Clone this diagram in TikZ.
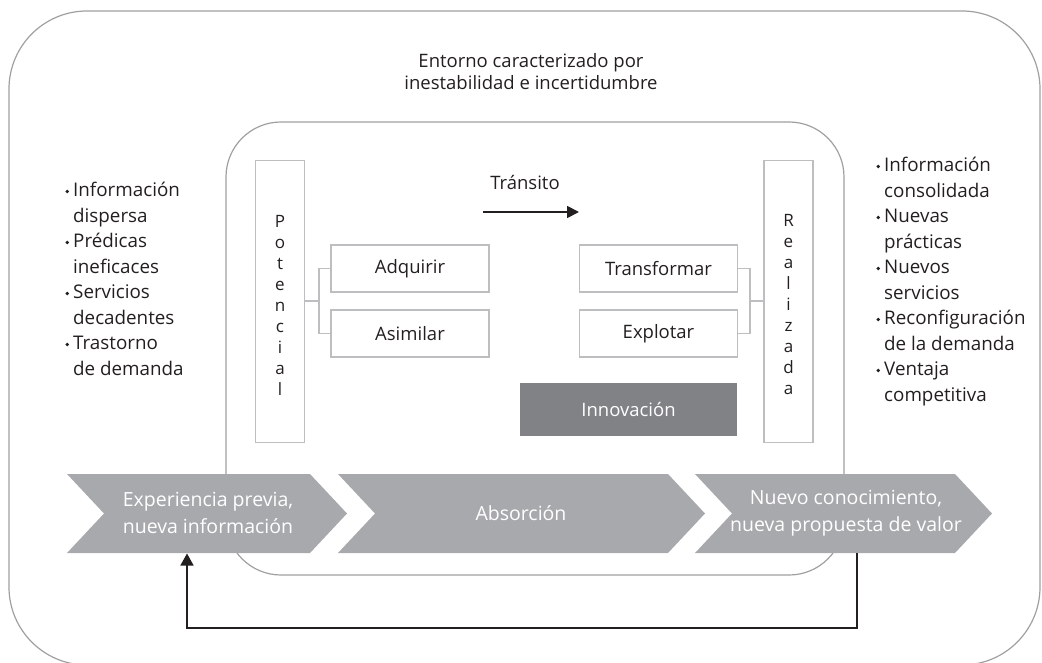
\documentclass[tikz,border=0pt]{standalone}
\usepackage{fontspec}
\setmainfont{Open Sans}
\usetikzlibrary{arrows.meta}
\definecolor{ink}{HTML}{231F20}
\definecolor{frame}{HTML}{A0A0A0}
\definecolor{boxline}{HTML}{BCBEC0}
\definecolor{chev}{HTML}{A7A9AC}
\definecolor{innov}{HTML}{808285}
\tikzset{
  frameline/.style={draw=frame, line width=1.2pt},
  stagebox/.style={draw=boxline, line width=1.3pt, minimum width=158pt, minimum height=47pt, inner sep=0pt,
    font=\fontsize{18.5}{20}\selectfont, text=ink},
  vertbox/.style={draw=boxline, line width=1.3pt, minimum width=49pt, minimum height=282pt, inner sep=0pt},
  vertlabel/.style={align=center, inner sep=0pt, font=\fontsize{17}{21}\selectfont, text=ink},
  bracket/.style={draw=boxline, line width=1.3pt},
  chevron/.style={fill=chev, draw=none},
  chevtext/.style={align=center, text=white, inner sep=0pt, font=\fontsize{19.5}{27}\selectfont},
  listtext/.style={align=left, inner sep=0pt, anchor=north west, text=ink, font=\fontsize{18.8}{25.5}\selectfont},
  feedback/.style={draw=ink, line width=1.6pt},
}
% small round bullet hanging left of each list item, centred on the x-height
\newcommand{\itm}{\llap{\raisebox{3.2pt}{\tikz\fill[ink] (0,0) circle (1.9pt);}\hspace{4pt}}}
\begin{document}
\begin{tikzpicture}[x=1pt,y=-1pt]
\useasboundingbox (0,0) rectangle (1042,663);

% outer environment frame (its bottom edge lies on the lower border)
\draw[frameline, rounded corners=78pt] (9,11) rectangle (1040,665);

\node[text=ink, align=center, inner sep=0pt, font=\fontsize{18.5}{22}\selectfont] (entorno) at (531,72)
  {Entorno caracterizado por\\inestabilidad e incertidumbre};

% inner absorption frame
\draw[frameline, rounded corners=55pt] (226,122) rectangle (844,575);

% potential / realised capacity bars
\node[vertbox] (potbox) at (280,301.5) {};
\node[vertlabel] (pot) at (280,305) {P\\o\\t\\e\\n\\c\\i\\a\\l};
\node[vertbox] (realbox) at (788.5,301.5) {};
\node[vertlabel] (real) at (788.5,305) {R\\e\\a\\l\\i\\z\\a\\d\\a};

% four capabilities
\node[stagebox] (adq) at (410,268.5) {Adquirir};
\node[stagebox] (asi) at (410,333.5) {Asimilar};
\node[stagebox] (tra) at (658.5,268.5) {Transformar};
\node[stagebox] (exp) at (658.5,333.5) {Explotar};
\node[fill=innov, minimum width=217pt, minimum height=53pt, inner sep=0pt,
  text=white, font=\fontsize{18.5}{20}\selectfont] (innov) at (628.5,409.5) {Innovación};

% brackets joining bars and capabilities
\coordinate (bl) at (319,301);
\draw[bracket] (potbox.east |- bl) -- (bl);
\draw[bracket] (adq.west) -| (bl) |- (asi.west);
\coordinate (br) at (750,301);
\draw[bracket] (tra.east) -| (br) |- (exp.east);
\draw[bracket] (br) -- (realbox.west |- br);

% transit arrow
\node[text=ink, inner sep=0pt, font=\fontsize{18.5}{20}\selectfont] (transito) at (525,183) {Tránsito};
\coordinate (ta) at (483,212);
\coordinate (tb) at (579,212);
\draw[draw=ink, line width=1.8pt, -{Triangle[length=12pt,width=12pt]}] (ta) -- (tb);

% process chevrons
\fill[chevron] (67,474) -- (310,474) -- (347,513.5) -- (310,553) -- (67,553) -- (104,513.5) -- cycle;
\fill[chevron] (338,474) -- (668,474) -- (705,513.5) -- (668,553) -- (338,553) -- (375,513.5) -- cycle;
\fill[chevron] (695,474) -- (955,474) -- (992,513.5) -- (955,553) -- (695,553) -- (732,513.5) -- cycle;
\node[chevtext] (prev) at (208,513) {Experiencia previa,\\nueva información};
\node[chevtext] (abs) at (521,513) {Absorción};
\node[chevtext] (nuevo) at (846,513) {Nuevo conocimiento,\\nueva propuesta de valor};

% feedback loop
\coordinate (fbstart) at (857,553);
\coordinate (fbend) at (187,553.5);
\coordinate (fbbottom) at (0,628);
\draw[feedback, -{Triangle[length=12pt,width=13pt]}] (fbstart) -- (fbstart |- fbbottom) -- (fbend |- fbbottom) -- (fbend);

% lists
\node[listtext] (before) at (73,182) {\itm Información\\dispersa\\\itm Prédicas\\ineficaces\\\itm Servicios\\decadentes\\\itm Trastorno\\de demanda};
\node[listtext] (after) at (884,157) {\itm Información\\consolidada\\\itm Nuevas\\prácticas\\\itm Nuevos\\servicios\\\itm Reconfiguración\\de la demanda\\\itm Ventaja\\competitiva};
\end{tikzpicture}
\end{document}
